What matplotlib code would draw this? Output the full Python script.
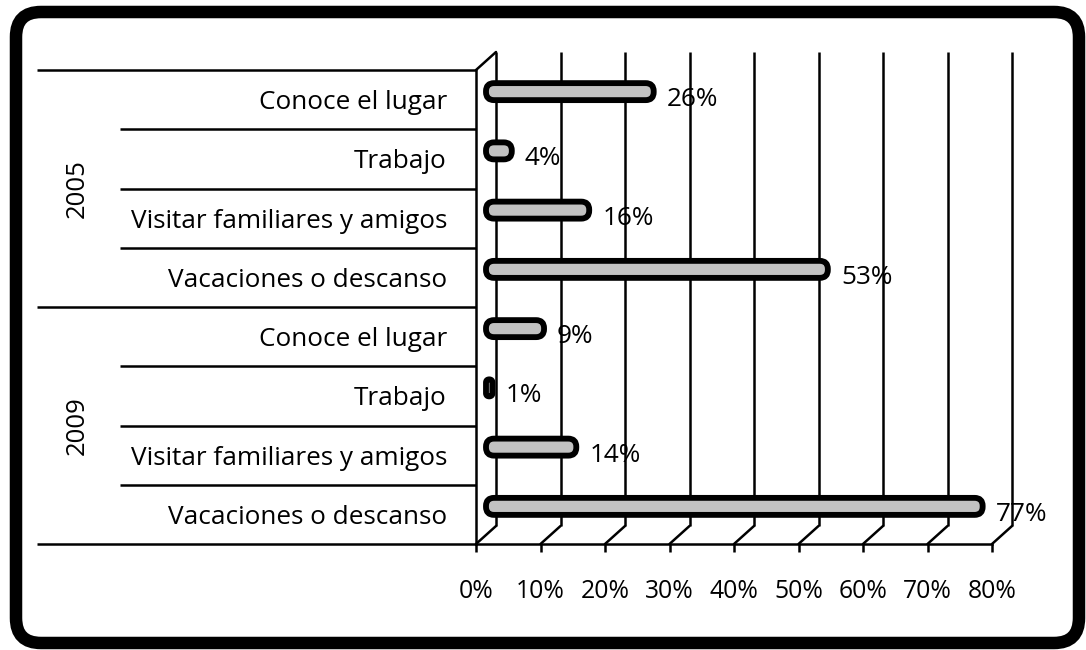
import matplotlib
matplotlib.use('Agg')
import matplotlib.pyplot as plt
from matplotlib.patches import FancyBboxPatch, ConnectionPatch
from matplotlib.transforms import ScaledTranslation, blended_transform_factory

# ---- data ----
years = ['2009', '2005']
categories = ['Vacaciones o descanso', 'Visitar familiares y amigos', 'Trabajo', 'Conoce el lugar']
values_2009 = [77, 14, 1, 9]
values_2005 = [53, 16, 4, 26]
xticks = [0, 10, 20, 30, 40, 50, 60, 70, 80]
xtick_labels = ['0%', '10%', '20%', '30%', '40%', '50%', '60%', '70%', '80%']

plt.rcParams['font.family'] = ['Open Sans', 'DejaVu Sans']

W, H = 1086, 650
DPI = 100
fig = plt.figure(figsize=(W / DPI, H / DPI), dpi=DPI)
fig.patch.set_facecolor('white')

ax_left, ax_bottom, ax_w, ax_h = 476, 544, 516, 474   # pixels (front plane)
ax = fig.add_axes([ax_left / W, (H - ax_bottom) / H, ax_w / W, ax_h / H])
ax.patch.set_visible(False)

row_labels = categories + categories
values = values_2009 + values_2005
n_rows = len(values)

ax.set_xlim(xticks[0], xticks[-1])
ax.set_ylim(0, n_rows)

px_x = (xticks[-1] - xticks[0]) / ax_w
px_y = n_rows / ax_h
asp = px_y / px_x

# 3D depth offsets
back_tr = ax.transData + ScaledTranslation(20 / DPI, 18 / DPI, fig.dpi_scale_trans)
bar_tr = ax.transData + ScaledTranslation(10 / DPI, 8 / DPI, fig.dpi_scale_trans)

line_kw = dict(color='black', lw=1.8, solid_capstyle='butt')

# back wall gridlines and floor diagonals
for t in xticks:
    ax.plot([t, t], [0, n_rows], transform=back_tr, clip_on=False, zorder=1, **line_kw)
    cp = ConnectionPatch((t, 0), (t, 0), coordsA=ax.transData, coordsB=back_tr,
                         color='black', lw=1.8, clip_on=False, zorder=1)
    ax.add_artist(cp)
cp = ConnectionPatch((0, n_rows), (0, n_rows), coordsA=ax.transData, coordsB=back_tr,
                     color='black', lw=1.8, clip_on=False, zorder=1)
ax.add_artist(cp)

# bars (rounded, outlined)
bar_h_px = 17
h = bar_h_px * px_y
for i, v in enumerate(values):
    y = i + 0.5
    r = min(8 * px_x, v / 2, bar_h_px * px_x / 2)
    p = FancyBboxPatch((0, y - h / 2), v, h,
                       boxstyle=f"round,pad=0,rounding_size={r}",
                       mutation_aspect=asp, fc='#c2c2c2', ec='black', lw=4.2,
                       joinstyle='round', transform=bar_tr, clip_on=False, zorder=3)
    ax.add_patch(p)
    ax.annotate(f'{v}%', xy=(v, y), xycoords='data', xytext=(16.6, 0),
                textcoords='offset points', ha='left', va='center',
                fontsize=18.8, color='black', zorder=4, annotation_clip=False)

# spines
for s in ['top', 'right']:
    ax.spines[s].set_visible(False)
for s in ['left', 'bottom']:
    ax.spines[s].set_linewidth(1.8)
    ax.spines[s].set_color('black')

# ticks
ax.set_xticks(xticks, xtick_labels)
ax.tick_params(axis='x', direction='out', length=6, width=1.8, pad=19, labelsize=17.8)
ax.set_yticks([i + 0.5 for i in range(n_rows)], row_labels)
ax.tick_params(axis='y', length=0, pad=20.9, labelsize=18.8)

# left category separators and group labels
bt = blended_transform_factory(ax.transAxes, ax.transData)
group_size = len(categories)
for b in range(n_rows + 1):
    x0 = -0.851 if b % group_size == 0 else -0.690
    ax.plot([x0, 0], [b, b], transform=bt, clip_on=False, **line_kw)
for g, yr in enumerate(years):
    ax.text(-0.772, g * group_size + group_size / 2, yr, transform=bt, rotation=90,
            ha='center', va='center', fontsize=18.5, color='black')

# outer rounded frame
frame = FancyBboxPatch((16 / DPI, 7 / DPI), (1079 - 16) / DPI, (643 - 12) / DPI,
                       boxstyle="round,pad=0,rounding_size=0.25",
                       transform=fig.dpi_scale_trans, fc='none', ec='black', lw=9)
fig.add_artist(frame)

fig.savefig('out.png', dpi=DPI)
